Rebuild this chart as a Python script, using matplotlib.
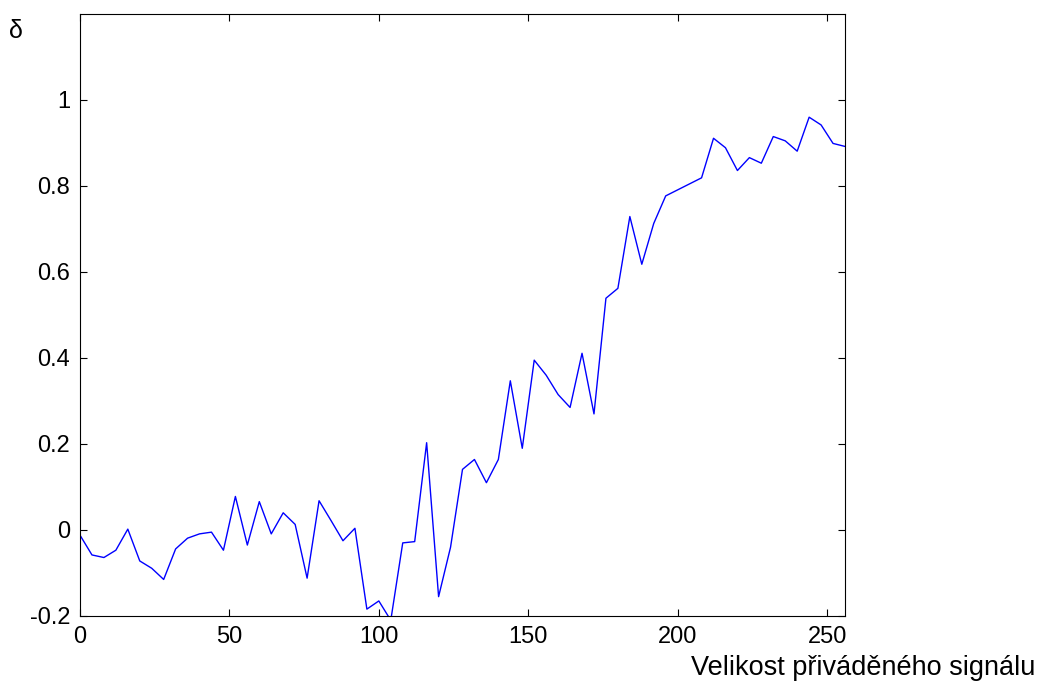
import numpy as np
import matplotlib.pyplot as plt

plt.rcParams['font.family'] = ['Liberation Sans', 'DejaVu Sans']

# signal size (x) and measured delta (y)
signal = np.arange(0, 257, 4)
delta = [-0.012, -0.058, -0.064, -0.047, 0.002, -0.072, -0.089, -0.115,
         -0.044, -0.019, -0.009, -0.005, -0.047, 0.078, -0.035, 0.066,
         -0.009, 0.040, 0.013, -0.112, 0.068, 0.022, -0.025, 0.004,
         -0.184, -0.165, -0.210, -0.030, -0.027, 0.203, -0.155, -0.040,
         0.141, 0.164, 0.110, 0.164, 0.347, 0.190, 0.395, 0.360,
         0.315, 0.285, 0.411, 0.270, 0.539, 0.562, 0.729, 0.618,
         0.713, 0.777, 0.791, 0.805, 0.819, 0.911, 0.889, 0.836,
         0.866, 0.853, 0.915, 0.905, 0.881, 0.960, 0.942, 0.899, 0.892]

xticks = [0, 50, 100, 150, 200, 250]
yticks = [-0.2, 0, 0.2, 0.4, 0.6, 0.8, 1]
ytick_labels = ['-0.2', '0', '0.2', '0.4', '0.6', '0.8', '1']

fig = plt.figure(figsize=(10.43, 6.85), dpi=100)
ax = fig.add_axes([80 / 1043, 1 - 616 / 685, 765 / 1043, 602 / 685])

ax.plot(signal, delta, color='#0000ff', lw=1.0)

ax.set_xlim(0, 256)
ax.set_ylim(-0.2, 1.2)
ax.set_xticks(xticks)
ax.set_yticks(yticks)
ax.set_yticklabels(ytick_labels)
ax.tick_params(direction='in', length=5, width=0.8, labelsize=17,
               top=True, right=True, pad=7, colors='black')
for s in ax.spines.values():
    s.set_linewidth(0.8)

fig.text(863 / 1043, 1 - 668 / 685, 'Velikost přiváděného signálu',
         ha='center', va='center', fontsize=19.5)
fig.text(16 / 1043, 1 - 31 / 685, 'δ', ha='center', va='center', fontsize=18)

fig.savefig('out.png', dpi=100)
